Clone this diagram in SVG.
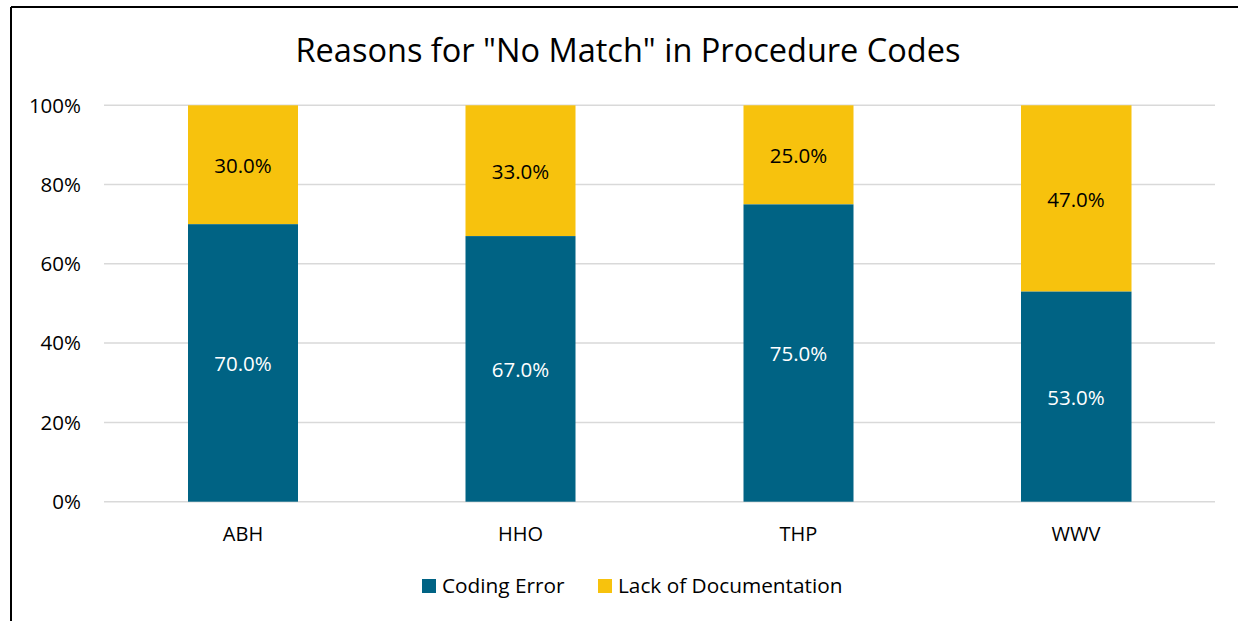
<svg xmlns="http://www.w3.org/2000/svg" width="1238" height="621" viewBox="0 0 1238 621">
<style>
text{font-family:"Open Sans","Liberation Sans",sans-serif;fill:#000}
.grid{stroke:#d9d9d9;stroke-width:1.5}
.ce{fill:#006384}
.ld{fill:#f7c20d}
.ax{font-size:20px;text-anchor:middle}
.yl{font-size:20.5px;text-anchor:end}
.dl{font-size:20.5px;text-anchor:middle}
.w{fill:#fff}
.lg{font-size:20.8px}
</style>
<rect width="1238" height="621" fill="#fff"/>
<path d="M11,7 H1238 M11,7 V621" stroke="#000" stroke-width="2" fill="none"/>
<text x="628" y="62" font-size="32.5" text-anchor="middle">Reasons for "No Match" in Procedure Codes</text>
<g id="grid">
<line class="grid" x1="104" y1="105.3" x2="1215" y2="105.3"/>
<line class="grid" x1="104" y1="184.6" x2="1215" y2="184.6"/>
<line class="grid" x1="104" y1="263.8" x2="1215" y2="263.8"/>
<line class="grid" x1="104" y1="343.1" x2="1215" y2="343.1"/>
<line class="grid" x1="104" y1="422.4" x2="1215" y2="422.4"/>
<line class="grid" x1="104" y1="501.7" x2="1215" y2="501.7"/>
</g>
<g id="yaxis">
<text class="yl" x="81" y="112.5">100%</text>
<text class="yl" x="81" y="191.8">80%</text>
<text class="yl" x="81" y="271">60%</text>
<text class="yl" x="81" y="350.3">40%</text>
<text class="yl" x="81" y="429.6">20%</text>
<text class="yl" x="81" y="508.9">0%</text>
</g>
<g id="bar-ABH">
<rect class="ld" x="188" y="105.3" width="110" height="119"/>
<rect class="ce" x="188" y="224.2" width="110" height="277.5"/>
<text class="dl" x="243" y="173">30.0%</text>
<text class="dl w" x="243" y="371">70.0%</text>
<text class="ax" x="243" y="541">ABH</text>
</g>
<g id="bar-HHO">
<rect class="ld" x="465.5" y="105.3" width="110" height="130.8"/>
<rect class="ce" x="465.5" y="236.1" width="110" height="265.6"/>
<text class="dl" x="520.5" y="178.5">33.0%</text>
<text class="dl w" x="520.5" y="377">67.0%</text>
<text class="ax" x="520.5" y="541">HHO</text>
</g>
<g id="bar-THP">
<rect class="ld" x="743.5" y="105.3" width="110" height="99.1"/>
<rect class="ce" x="743.5" y="204.4" width="110" height="297.3"/>
<text class="dl" x="798.5" y="163">25.0%</text>
<text class="dl w" x="798.5" y="361">75.0%</text>
<text class="ax" x="798.5" y="541">THP</text>
</g>
<g id="bar-WWV">
<rect class="ld" x="1021" y="105.3" width="110.5" height="186.3"/>
<rect class="ce" x="1021" y="291.6" width="110.5" height="210.1"/>
<text class="dl" x="1076" y="206.5">47.0%</text>
<text class="dl w" x="1076" y="404.5">53.0%</text>
<text class="ax" x="1076" y="541">WWV</text>
</g>
<g id="legend">
<rect class="ce" x="422" y="579" width="14" height="14"/>
<text class="lg" x="442" y="593">Coding Error</text>
<rect class="ld" x="598" y="579" width="14" height="14"/>
<text class="lg" x="618" y="593">Lack of Documentation</text>
</g>
</svg>
